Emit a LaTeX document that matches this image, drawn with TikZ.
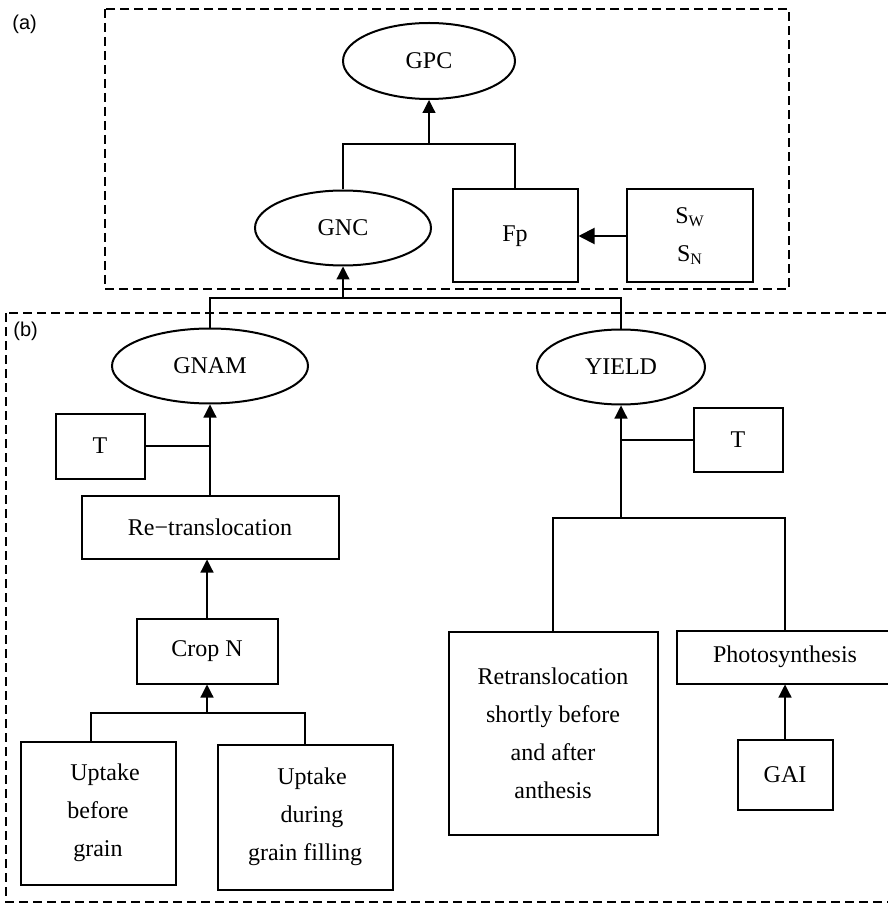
\documentclass[tikz,border=0pt]{standalone}
\usepackage{fontspec}
\setmainfont{Liberation Serif}
\newfontfamily\panelfont{Liberation Sans}
\usepackage{tikz}
\usetikzlibrary{shapes.geometric, arrows.meta}

\begin{document}
\begin{tikzpicture}[x=0.5pt, y=-0.5pt,
  box/.style={draw, line width=1pt, align=center, inner sep=0pt, font=\fontsize{12}{19}\selectfont},
  oval/.style={draw, ellipse, line width=1pt, inner sep=0pt, font=\fontsize{12}{14}\selectfont},
  conn/.style={line width=0.6pt},
  arr/.style={line width=0.6pt, -{Triangle[length=6.5pt,width=6.5pt]}},
  panel/.style={draw, line width=1pt, dash pattern=on 4.5pt off 2.5pt},
  tag/.style={anchor=north west, inner sep=0pt, font=\panelfont\fontsize{10}{12}\selectfont}]
%\draw[step=50,gray,very thin] (0,0) grid (887,903);

\useasboundingbox (0,0) rectangle (887,903);

\draw[panel] (105,9) rectangle (789,289);
\draw[panel] (6,313) rectangle (900,902);

\node[tag] (taga) at (12,15) {(a)};
\node[tag] (tagb) at (13,322) {(b)};

% (a)
\node[oval, minimum width=86pt, minimum height=38pt] (gpc) at (429,61) {GPC};
\node[oval, minimum width=88pt, minimum height=37.5pt] (gnc) at (343,228) {GNC};
\node[box, minimum width=62.5pt, minimum height=46.5pt] (fp) at (515,236) {Fp};
\node[box, minimum width=63pt, minimum height=46.5pt] (swsn) at (690,236) {S\textsubscript{W}\\S\textsubscript{N}};

\coordinate (ja) at (429,144);
\draw[conn] (gnc.north) |- (ja) -| (fp.north);
\draw[arr] (ja) -- (gpc.south);
\draw[line width=1pt, -{Triangle[length=8pt,width=8pt]}] (swsn.west) -- (fp.east);

% (b)
\node[oval, minimum width=98pt, minimum height=37.5pt] (gnam) at (210,366) {GNAM};
\node[oval, minimum width=84pt, minimum height=37.5pt] (yield) at (621,367) {YIELD};

\coordinate (jb) at (343,298);
\draw[conn] (gnam.north) |- (jb) -| (yield.north);
\draw[arr] (jb) -- (gnc.south);

\node[box, minimum width=44.5pt, minimum height=32.5pt] (tleft) at (100,446) {T};
\node[box, minimum width=128.5pt, minimum height=31.5pt] (retrans) at (210,527) {Re−translocation};
\node[box, minimum width=70.5pt, minimum height=32.5pt] (cropn) at (207,651) {Crop N};
\node[box, minimum width=77.5pt, minimum height=71.5pt] (upbefore) at (98,813) {\hspace*{7pt}Uptake\\before\\grain};
\node[box, minimum width=87.5pt, minimum height=72.5pt] (upduring) at (305,817) {\hspace*{7pt}Uptake\\\hspace*{7pt}during\\grain filling};

\draw[arr] (retrans.north) -- (gnam.south);
\draw[conn] (tleft.east) -- (tleft.east -| gnam.south);
\draw[arr] (cropn.north) -- (cropn.north |- retrans.south);

\coordinate (jc) at (207,713);
\draw[conn] ([xshift=-3.5pt]upbefore.north) |- (jc) -| (upduring.north);
\draw[arr] (jc) -- (cropn.south);

\node[box, minimum width=44.5pt, minimum height=32pt] (tright) at (738,440) {T};
\node[box, minimum width=104.5pt, minimum height=101.5pt] (retrshort) at (553,733) {Retranslocation\\shortly before\\and after\\anthesis};
\node[box, minimum width=108pt, minimum height=26.5pt] (photo) at (785,657) {Photosynthesis};
\node[box, minimum width=47.5pt, minimum height=35pt] (gai) at (785,775) {GAI};

\coordinate (jd) at (621,518);
\draw[conn] (retrshort.north) |- (jd) -| (photo.north);
\draw[arr] (jd) -- (yield.south);
\draw[conn] (tright.west) -- (tright.west -| yield.south);
\draw[arr] (gai.north) -- (photo.south);

\end{tikzpicture}
\end{document}
